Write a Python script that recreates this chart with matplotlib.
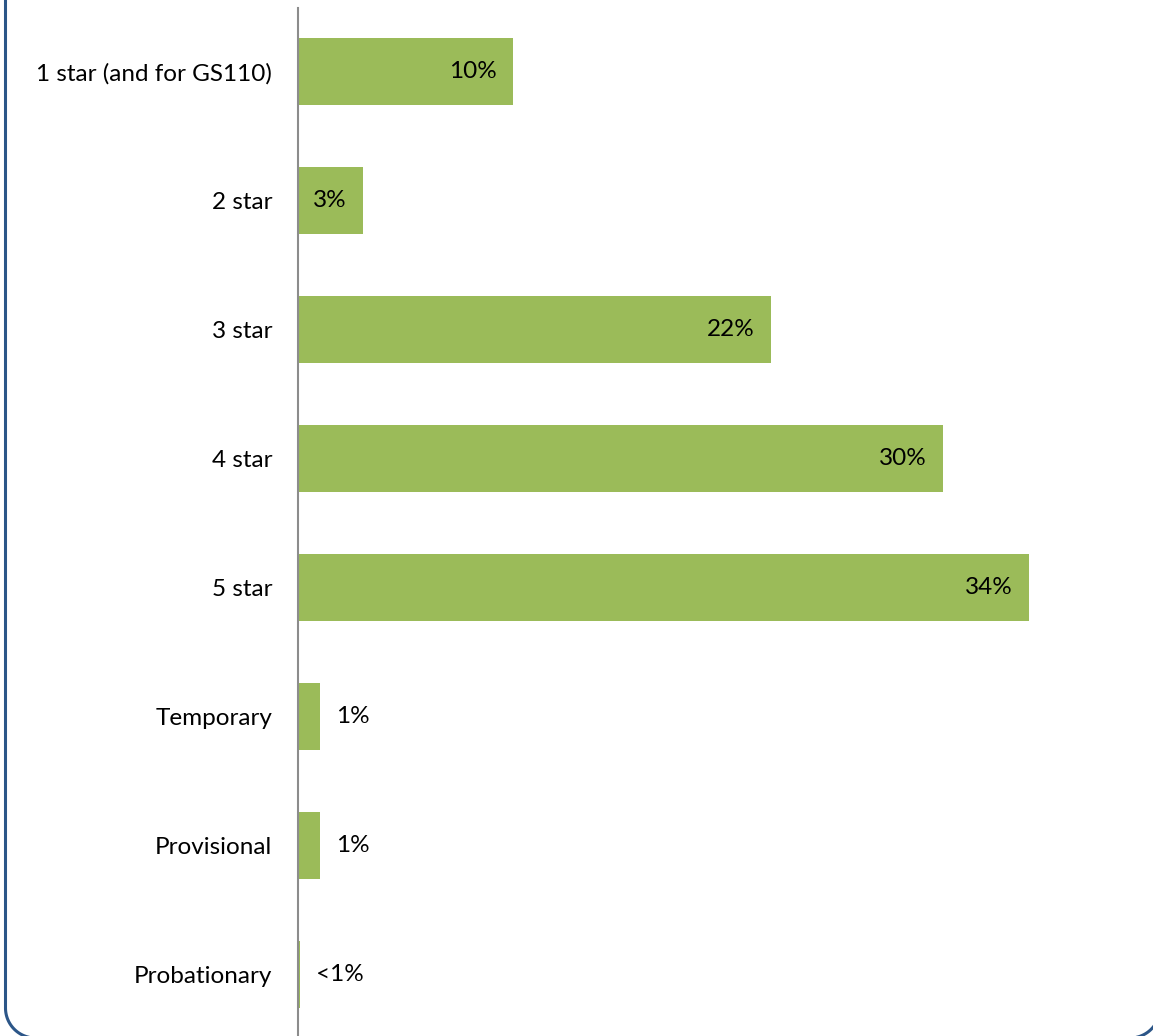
import numpy as np
import matplotlib.pyplot as plt
from matplotlib.lines import Line2D
from matplotlib.transforms import IdentityTransform

categories = ["1 star (and for GS110)", "2 star", "3 star", "4 star", "5 star",
              "Temporary", "Provisional", "Probationary"]
values = [10, 3, 22, 30, 34, 1, 1, 0.1]
labels = ["10%", "3%", "22%", "30%", "34%", "1%", "1%", "<1%"]

plt.rcParams['font.family'] = ['Lato', 'DejaVu Sans']

W, H = 1153, 1036
fig = plt.figure(figsize=(W / 100, H / 100), dpi=100)

# plot area in pixel terms
left, right = 298, 298 + 36 * 21.5
top, bottom = 7.5, 1038.5
ax = fig.add_axes([left / W, 1 - bottom / H, (right - left) / W, (bottom - top) / H])

y = list(range(len(categories)))
ax.barh(y, values, height=0.52, color="#9BBB59", zorder=2)
ax.set_ylim(len(categories) - 0.5, -0.5)
ax.set_xlim(0, 36)

fs = 17.5
for i, (v, lab) in enumerate(zip(values, labels)):
    if v >= 3:
        ax.text(v - 0.75, i, lab, ha="right", va="center", fontsize=fs, color="black")
    else:
        ax.text(v + 0.75, i, lab, ha="left", va="center", fontsize=fs, color="black")

ax.set_yticks(y)
ax.set_yticklabels(categories, fontsize=fs)
ax.tick_params(axis="y", length=0, pad=18.5)
ax.set_xticks([])
for s in ["top", "right", "bottom"]:
    ax.spines[s].set_visible(False)
ax.spines["left"].set_color("#8C8C8C")
ax.spines["left"].set_linewidth(1.5)

# rounded frame (pixel coords), only the lower part shows in the image
r = 30
fx0, fx1, fy0 = 5.5, 1160, -2
t1 = np.linspace(np.pi, 1.5 * np.pi, 40)
t2 = np.linspace(1.5 * np.pi, 2 * np.pi, 40)
xs = np.concatenate([[fx0], fx0 + r + r * np.cos(t1), fx1 - r + r * np.cos(t2), [fx1]])
ys = np.concatenate([[H + 10], fy0 + r + r * np.sin(t1), fy0 + r + r * np.sin(t2), [H + 10]])
fig.lines.append(Line2D(xs, ys, transform=IdentityTransform(), color="#2C5688",
                        linewidth=2.2, clip_on=False))

fig.savefig("out.png", dpi=100)
